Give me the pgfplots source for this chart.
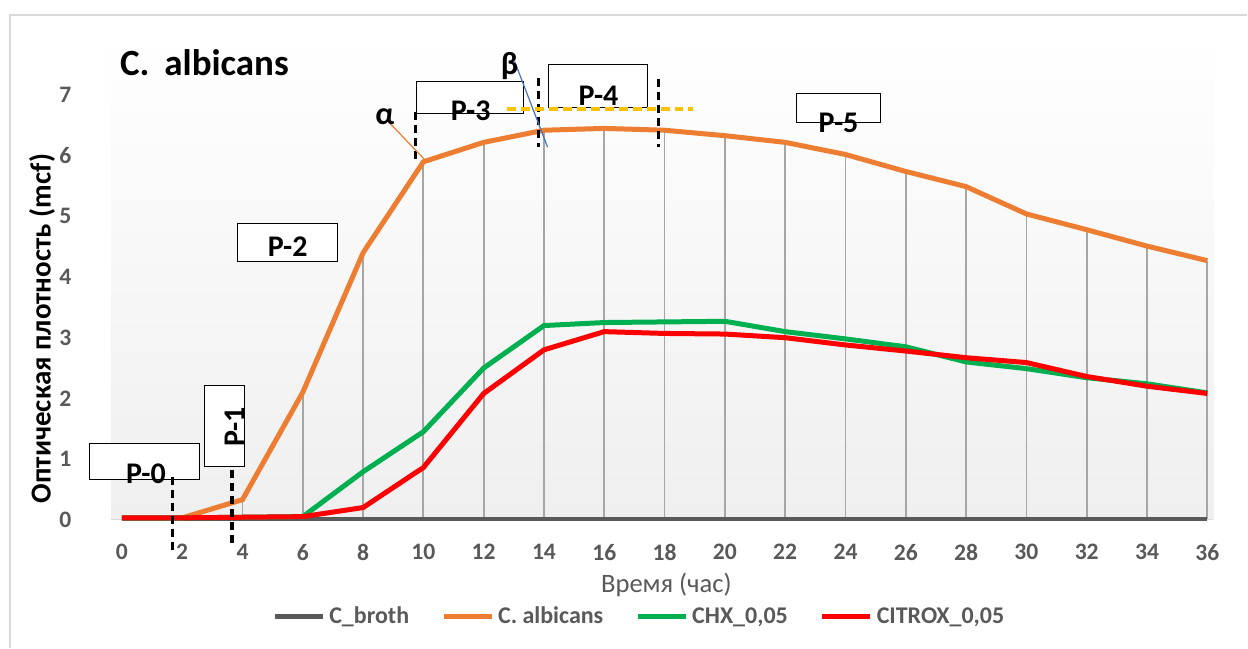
\documentclass[border=0pt]{standalone}
\usepackage{fontspec}
\setmainfont{Carlito}
\usepackage{pgfplots}
\pgfplotsset{compat=1.18}
\definecolor{cOr}{HTML}{ED7D31}
\definecolor{cGr}{HTML}{00B050}
\definecolor{cRd}{HTML}{FF0000}
\definecolor{cBr}{HTML}{595959}
\definecolor{cTx}{HTML}{595959}
\definecolor{cDrop}{HTML}{A6A6A6}
\definecolor{cYel}{HTML}{FFC000}
\definecolor{cBlu}{HTML}{4472C4}
\definecolor{cFrame}{HTML}{D9D9D9}
\definecolor{cBg}{HTML}{EFEFEF}
\begin{document}
\begin{tikzpicture}
\path (0,0) rectangle (624pt,-324pt);
\draw[cFrame, line width=0.8pt] (5pt,-324pt) -- (5pt,-7.5pt) -- (624pt,-7.5pt);
\begin{axis}[
  at={(55.7pt,-260pt)}, anchor=south west,
  x=15.085pt, y=30.35pt,
  xmin=-0.35, xmax=36.2, ymin=0, ymax=8.0,
  axis line style={draw=none},
  axis background/.style={shade, top color=white, bottom color=cBg},
  xtick={0,2,...,36}, ytick={0,1,...,7},
  major tick length=0pt,
  tick label style={font=\fontsize{11.8}{13}\selectfont\bfseries, text=cTx},
  /pgf/number format/assume math mode=true,
  xticklabel style={yshift=-8.7pt},
  yticklabel style={xshift=-16.5pt},
  clip=false,
  legend columns=4,
  legend style={at={(axis cs:17.2,-1.6)}, anchor=center, draw=none, fill=none,
    font=\fontsize{12}{14}\selectfont\bfseries, text=cTx,
    /tikz/every even column/.append style={column sep=14pt}},
  legend image code/.code={\draw[#1] (0pt,0pt) -- (24pt,0pt);},
]
% drop lines
\addplot[forget plot, ycomb, cDrop, line width=0.9pt] coordinates {
 (4,0.33) (6,2.1) (8,4.4) (10,5.9) (12,6.22) (14,6.42) (16,6.45) (18,6.42) (20,6.33)
 (22,6.22) (24,6.02) (26,5.74) (28,5.49) (30,5.04) (32,4.78) (34,4.51) (36,4.27)};
\draw[cFrame, line width=0.8pt] (axis cs:-0.35,0) -- (axis cs:36.2,0);
% series
\addplot[cBr, line width=2.3pt] coordinates {
 (0,0.01) (2,0.01) (4,0.01) (6,0.01) (8,0.01) (10,0.01) (12,0.01) (14,0.01) (16,0.01) (18,0.01)
 (20,0.01) (22,0.01) (24,0.01) (26,0.01) (28,0.01) (30,0.01) (32,0.01) (34,0.01) (36,0.01)};
\addlegendentry{C\_broth}
\addplot[cOr, line width=2.5pt] coordinates {
 (0,0.03) (2,0.03) (4,0.33) (6,2.1) (8,4.4) (10,5.9) (12,6.22) (14,6.42) (16,6.45) (18,6.42) (20,6.33)
 (22,6.22) (24,6.02) (26,5.74) (28,5.49) (30,5.04) (32,4.78) (34,4.51) (36,4.27)};
\addlegendentry{C. albicans}
\addplot[cGr, line width=2.5pt] coordinates {
 (0,0.03) (2,0.03) (4,0.04) (6,0.05) (8,0.79) (10,1.45) (12,2.5) (14,3.2) (16,3.25) (18,3.26) (20,3.27)
 (22,3.1) (24,2.98) (26,2.85) (28,2.6) (30,2.49) (32,2.34) (34,2.24) (36,2.09)};
\addlegendentry{CHX\_0,05}
\addplot[cRd, line width=2.5pt] coordinates {
 (0,0.03) (2,0.03) (4,0.04) (6,0.05) (8,0.2) (10,0.86) (12,2.08) (14,2.8) (16,3.1) (18,3.07) (20,3.06)
 (22,3.0) (24,2.88) (26,2.78) (28,2.67) (30,2.59) (32,2.36) (34,2.2) (36,2.08)};
\addlegendentry{CITROX\_0,05}
% labels
\node[font=\fontsize{13.3}{15}\selectfont, text=cTx] at (axis cs:18.06,-1.07) {Время (час)};
\node[rotate=90, font=\fontsize{14.5}{16}\selectfont\bfseries] at (axis cs:-2.65,3.15) {Оптическая плотность (mcf)};
\node[anchor=base west, inner sep=0pt, font=\fontsize{18.5}{20}\selectfont\bfseries] at (axis cs:-0.07,7.33) {C.\hspace{0.4em}albicans};
% boxes
\draw[black, line width=0.5pt, fill=white] (axis cs:-1.06,0.66) rectangle (axis cs:2.59,1.25);
\draw[black, line width=0.5pt, fill=white] (axis cs:2.75,0.87) rectangle (axis cs:4.08,2.21);
\draw[black, line width=0.5pt, fill=white] (axis cs:3.85,4.25) rectangle (axis cs:7.16,4.89);
\draw[black, line width=0.5pt, fill=white] (axis cs:9.78,6.70) rectangle (axis cs:13.32,7.23);
\draw[black, line width=0.5pt, fill=white] (axis cs:14.15,6.79) rectangle (axis cs:17.43,7.50);
\draw[black, line width=0.5pt, fill=white] (axis cs:22.37,6.54) rectangle (axis cs:25.16,7.03);
% dashed lines
\draw[black, line width=1.6pt, dash pattern=on 4pt off 2.5pt] (axis cs:1.69,0.71) -- (axis cs:1.69,-0.53);
\draw[black, line width=1.6pt, dash pattern=on 4pt off 2.5pt] (axis cs:3.65,0.82) -- (axis cs:3.65,-0.41);
\draw[black, line width=1.6pt, dash pattern=on 4pt off 2.5pt] (axis cs:9.75,6.72) -- (axis cs:9.75,5.9);
\draw[black, line width=1.6pt, dash pattern=on 4pt off 2.5pt] (axis cs:13.82,7.28) -- (axis cs:13.82,6.14);
\draw[black, line width=1.6pt, dash pattern=on 4pt off 2.5pt] (axis cs:17.8,7.27) -- (axis cs:17.8,6.14);
\draw[cYel, line width=2pt, dash pattern=on 4.5pt off 2.5pt] (axis cs:12.76,6.77) -- (axis cs:18.93,6.77);
% box texts
\node[font=\fontsize{15}{16}\selectfont\bfseries] at (axis cs:0.8,0.76) {P-0};
\node[rotate=90, font=\fontsize{15}{16}\selectfont\bfseries] at (axis cs:3.75,1.53) {P-1};
\node[font=\fontsize{15}{16}\selectfont\bfseries] at (axis cs:5.5,4.5) {P-2};
\node[font=\fontsize{15}{16}\selectfont\bfseries] at (axis cs:11.57,6.74) {P-3};
\node[font=\fontsize{15}{16}\selectfont\bfseries] at (axis cs:15.81,6.98) {P-4};
\node[font=\fontsize{15}{16}\selectfont\bfseries] at (axis cs:23.77,6.54) {P-5};
% alpha, beta
\draw[cOr, line width=0.6pt] (axis cs:8.88,6.54) -- (axis cs:10.11,5.9);
\node[font=\fontsize{16}{17}\selectfont\bfseries] at (axis cs:8.72,6.64) {α};
\draw[cBlu, line width=0.6pt] (axis cs:13.03,7.55) -- (axis cs:14.12,6.14);
\node[font=\fontsize{16}{17}\selectfont\bfseries] at (axis cs:12.86,7.48) {β};
\end{axis}
\end{tikzpicture}
\end{document}
